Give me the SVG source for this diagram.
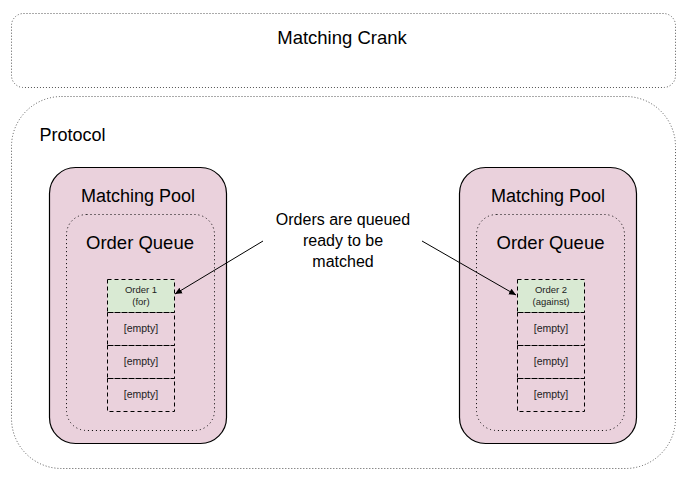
<svg xmlns="http://www.w3.org/2000/svg" width="687" height="482" viewBox="0 0 687 482">
<style>
text{font-family:"Liberation Sans",Arial,sans-serif;fill:#000}
.outer{fill:none;stroke:#555;stroke-width:1;stroke-dasharray:1 2}
.pool{fill:#ead1dc;stroke:#000;stroke-width:1.2}
.queue{fill:none;stroke:#000;stroke-width:1;stroke-dasharray:1 3}
.cell{fill:none;stroke:#000;stroke-width:1;stroke-dasharray:4 3}
.ord{fill:#d9ead3;stroke:#000;stroke-width:1;stroke-dasharray:4 3}
.big{font-size:18.5px;text-anchor:middle}
.pl{font-size:18px;text-anchor:middle}
.mid{font-size:16px;text-anchor:middle}
.sm{font-size:9.5px;text-anchor:middle;fill:#222}
.em{font-size:10.5px;text-anchor:middle;fill:#222}
.arr{stroke:#000;stroke-width:1;fill:none;marker-end:url(#ah)}
</style>
<defs>
<marker id="ah" markerWidth="8" markerHeight="8" refX="7" refY="4" orient="auto" markerUnits="userSpaceOnUse">
<path d="M0,0.8 L7,4 L0,7.2 Z" fill="#000"/>
</marker>
</defs>
<rect width="687" height="482" fill="#fff"/>
<g id="crank">
<rect class="outer" x="11.5" y="13.5" width="664" height="74" rx="12"/>
<text class="big" x="342" y="44">Matching Crank</text>
</g>
<g id="protocol">
<rect class="outer" x="11.5" y="96.5" width="664" height="372" rx="50"/>
<text x="39.5" y="140.5" font-size="18">Protocol</text>
</g>
<g id="pool-left">
<rect class="pool" x="49.5" y="167.5" width="177" height="276" rx="26"/>
<text class="pl" x="138" y="202">Matching Pool</text>
<g id="queue-left">
<rect class="queue" x="66.5" y="214.5" width="148" height="216" rx="20"/>
<text class="big" x="140" y="249">Order Queue</text>
</g>
<g id="order1">
<rect class="ord" x="107.5" y="279.5" width="67" height="33"/>
<text class="sm" x="141" y="293">Order 1</text>
<text class="sm" x="141" y="305">(for)</text>
</g>
<g id="empty-l1"><rect class="cell" x="107.5" y="312.5" width="67" height="33"/><text class="em" x="141" y="332">[empty]</text></g>
<g id="empty-l2"><rect class="cell" x="107.5" y="345.5" width="67" height="33"/><text class="em" x="141" y="365">[empty]</text></g>
<g id="empty-l3"><rect class="cell" x="107.5" y="378.5" width="67" height="33"/><text class="em" x="141" y="398">[empty]</text></g>
</g>
<g id="pool-right">
<rect class="pool" x="459.5" y="167.5" width="177" height="276" rx="26"/>
<text class="pl" x="548" y="202">Matching Pool</text>
<g id="queue-right">
<rect class="queue" x="476.5" y="214.5" width="148" height="216" rx="20"/>
<text class="big" x="550.5" y="249">Order Queue</text>
</g>
<g id="order2">
<rect class="ord" x="517.5" y="279.5" width="67" height="33"/>
<text class="sm" x="551" y="293">Order 2</text>
<text class="sm" x="551" y="305">(against)</text>
</g>
<g id="empty-r1"><rect class="cell" x="517.5" y="312.5" width="67" height="33"/><text class="em" x="551" y="332">[empty]</text></g>
<g id="empty-r2"><rect class="cell" x="517.5" y="345.5" width="67" height="33"/><text class="em" x="551" y="365">[empty]</text></g>
<g id="empty-r3"><rect class="cell" x="517.5" y="378.5" width="67" height="33"/><text class="em" x="551" y="398">[empty]</text></g>
</g>
<g id="note">
<text class="mid" x="343" y="225">Orders are queued</text>
<text class="mid" x="343" y="246">ready to be</text>
<text class="mid" x="343" y="267">matched</text>
</g>
<g id="connectors">
<line class="arr" x1="263" y1="241" x2="175" y2="294"/>
<line class="arr" x1="422" y1="241" x2="516" y2="295"/>
</g>
</svg>
